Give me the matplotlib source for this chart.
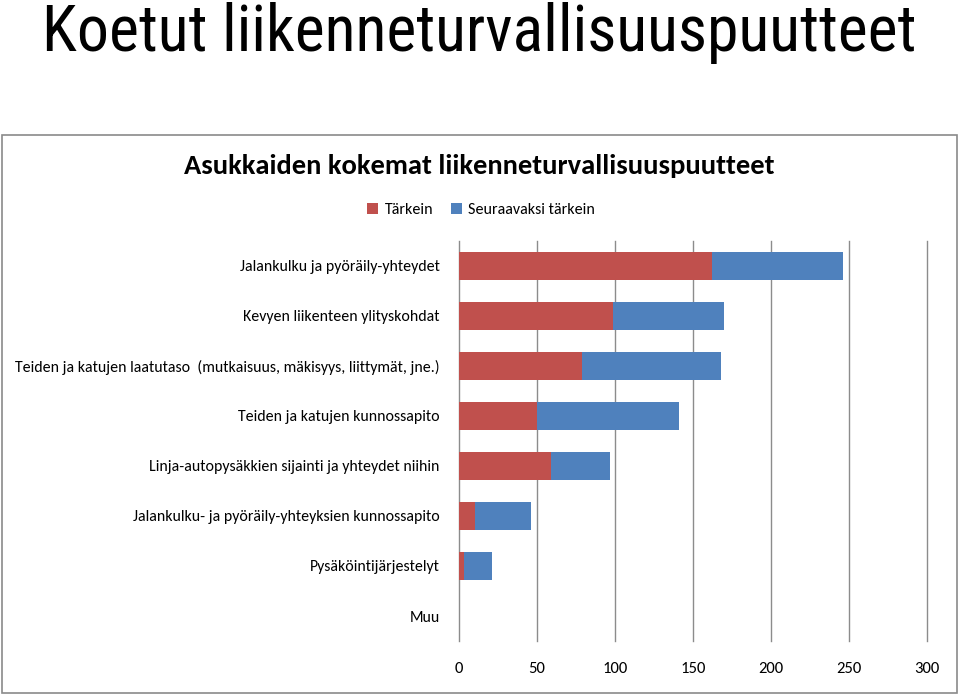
import matplotlib
matplotlib.use("Agg")
import matplotlib.pyplot as plt
from matplotlib.patches import Rectangle, Patch

categories = [
    "Jalankulku ja pyöräily-yhteydet",
    "Kevyen liikenteen ylityskohdat",
    "Teiden ja katujen laatutaso  (mutkaisuus, mäkisyys, liittymät, jne.)",
    "Teiden ja katujen kunnossapito",
    "Linja-autopysäkkien sijainti ja yhteydet niihin",
    "Jalankulku- ja pyöräily-yhteyksien kunnossapito",
    "Pysäköintijärjestelyt",
    "Muu",
]
tarkein = [162, 99, 79, 50, 59, 10, 3, 0]
seuraavaksi = [84, 71, 89, 91, 38, 36, 18, 0]
series_names = ["Tärkein", "Seuraavaksi tärkein"]
xticks = [0, 50, 100, 150, 200, 250, 300]

narrow = ["Roboto Condensed", "Liberation Sans"]
body = ["Carlito", "Lato"]

W, H = 960, 695
fig = plt.figure(figsize=(W / 100, H / 100), dpi=100)

# slide title
fig.text(479 / W, 1 - 33 / H, "Koetut liikenneturvallisuuspuutteet", ha="center", va="center",
         fontsize=46, family=narrow, color="black")

# chart frame
fig.patches.append(Rectangle((2 / W, 2 / H), 955 / W, (693 - 135) / H, transform=fig.transFigure,
                             fill=False, edgecolor="#8a8a8a", linewidth=1.2))

fig.text(479 / W, 1 - 166 / H, "Asukkaiden kokemat liikenneturvallisuuspuutteet", ha="center",
         va="center", fontsize=20.5, fontweight="bold", family=body, color="black")

ax = fig.add_axes([459 / W, 1 - 641 / H, (927 - 459) / W, 400 / H])
y = list(range(len(categories)))
red = "#C0504D"
blue = "#4F81BD"
ax.barh(y, tarkein, height=0.56, color=red, zorder=3)
ax.barh(y, seuraavaksi, left=tarkein, height=0.56, color=blue, zorder=3)
ax.set_ylim(len(categories) - 0.5, -0.5)
ax.set_xlim(0, 300)
ax.set_xticks(xticks)
ax.set_yticks(y)
ax.set_yticklabels(categories, family=body, fontsize=11.4)
ax.set_xticklabels([str(v) for v in xticks], family=body, fontsize=12)
ax.tick_params(axis="both", length=0)
ax.tick_params(axis="x", pad=15)
ax.tick_params(axis="y", pad=14)
for s in ax.spines.values():
    s.set_visible(False)
ax.grid(axis="x", color="#8c8c8c", linewidth=1.0, zorder=0)
ax.set_axisbelow(True)
for gl in ax.get_xgridlines():
    gl.set_clip_on(False)

handles = [Patch(facecolor=red), Patch(facecolor=blue)]
leg = fig.legend(handles, series_names, loc="center", bbox_to_anchor=(481 / W, 1 - 210 / H), ncol=2,
                 frameon=False, prop={"family": body, "size": 11.5}, handlelength=0.7,
                 handleheight=0.7, handletextpad=0.4, columnspacing=1.1)

fig.savefig("out.png", dpi=100)
